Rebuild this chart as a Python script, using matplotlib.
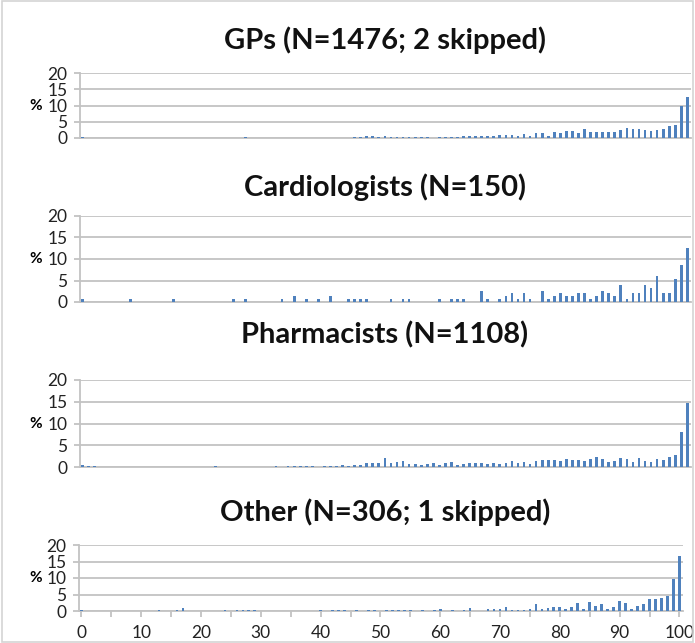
import numpy as np
import matplotlib
matplotlib.use("Agg")
import matplotlib.pyplot as plt
from matplotlib.patches import Rectangle

plt.rcParams['font.family'] = ['Lato', 'DejaVu Sans']

scores = np.arange(0, 101)

titles = ["GPs (N=1476; 2 skipped)", "Cardiologists (N=150)",
          "Pharmacists (N=1108)", "Other (N=306; 1 skipped)"]

# percent of respondents at each score 0..100
gps = [0.3, 0, 0.07, 0, 0, 0.07, 0, 0, 0.07, 0,
       0, 0.07, 0, 0, 0.07, 0, 0, 0.07, 0, 0,
       0.07, 0, 0, 0.07, 0, 0, 0.07, 0.3, 0, 0.07,
       0, 0.07, 0, 0.07, 0, 0.07, 0, 0.07, 0, 0.07,
       0.07, 0, 0.07, 0.07, 0.14, 0.2, 0.3, 0.6, 0.6, 0.3,
       0.7, 0.3, 0.3, 0.3, 0.3, 0.3, 0.2, 0.2, 0.1, 0.3,
       0.3, 0.3, 0.4, 0.5, 0.5, 0.6, 0.6, 0.7, 0.5, 0.9,
       0.9, 0.9, 0.5, 1.35, 0.5, 1.5, 1.5, 0.7, 1.8, 1.5,
       2.2, 2.2, 1.5, 2.7, 2.0, 2.0, 2.0, 2.0, 2.0, 2.4,
       3.2, 2.7, 2.7, 2.4, 2.2, 2.5, 2.9, 3.6, 3.9, 9.7,
       12.5]

cardio = [0.67, 0, 0, 0, 0, 0, 0, 0, 0.67, 0,
          0, 0, 0, 0, 0, 0.67, 0, 0, 0, 0,
          0, 0, 0, 0, 0, 0.67, 0, 0.67, 0, 0,
          0, 0, 0, 0.67, 0, 1.33, 0, 0.67, 0, 0.67,
          0, 1.33, 0, 0, 0.67, 0.67, 0.67, 0.67, 0, 0,
          0, 0.67, 0, 0.67, 0.67, 0, 0, 0, 0, 0.67,
          0, 0.67, 0.67, 0.67, 0, 0, 2.67, 0.67, 0, 0.67,
          1.33, 2.0, 0.67, 2.0, 0.67, 0, 2.67, 0.67, 1.33, 2.0,
          1.33, 1.33, 2.0, 2.0, 0.67, 1.33, 2.67, 2.0, 1.33, 4.0,
          0.67, 2.0, 2.0, 4.0, 3.33, 6.0, 2.0, 2.0, 5.33, 8.67,
          12.67]

pharm = [0.5, 0.2, 0.2, 0, 0, 0.1, 0.1, 0, 0.1, 0.1,
         0, 0, 0.1, 0.1, 0, 0.1, 0.1, 0.1, 0.1, 0.1,
         0.1, 0, 0.2, 0.1, 0.1, 0.1, 0.1, 0, 0.1, 0.1,
         0.1, 0, 0.2, 0.1, 0.2, 0.3, 0.2, 0.3, 0.2, 0.1,
         0.3, 0.3, 0.2, 0.4, 0.3, 0.4, 0.5, 0.9, 0.9, 1.0,
         2.0, 1.0, 1.2, 1.4, 0.6, 0.7, 0.5, 0.8, 1.0, 0.5,
         1.0, 1.2, 0.5, 0.8, 0.9, 1.0, 0.9, 0.7, 1.0, 0.8,
         0.9, 1.4, 1.0, 1.1, 0.7, 1.4, 1.5, 1.5, 1.5, 1.4,
         1.8, 1.7, 1.5, 1.4, 1.8, 2.3, 1.8, 1.2, 1.4, 2.0,
         1.8, 1.2, 2.1, 1.4, 1.2, 1.8, 1.7, 2.3, 2.8, 8.1,
         14.6]

other = [0.33, 0, 0, 0, 0, 0, 0, 0, 0, 0,
         0, 0, 0, 0.33, 0, 0, 0.33, 0.98, 0, 0,
         0, 0, 0, 0, 0.33, 0, 0.33, 0.33, 0.33, 0.33,
         0, 0, 0, 0, 0, 0, 0, 0, 0, 0,
         0.33, 0, 0.33, 0.33, 0.33, 0, 0.33, 0, 0.33, 0.33,
         0, 0.33, 0.33, 0.33, 0.33, 0.33, 0, 0.33, 0, 0.33,
         0.66, 0, 0.33, 0, 0.33, 0.98, 0, 0, 0.66, 0.66,
         0.66, 1.31, 0.33, 0.33, 0.33, 0.66, 1.97, 0.66, 0.98, 1.31,
         1.31, 0.66, 1.31, 2.30, 0.66, 2.62, 1.64, 1.97, 0.66, 1.31,
         2.95, 2.30, 0.66, 1.64, 1.97, 3.61, 3.61, 3.93, 4.59, 9.84,
         16.72]

series = [gps, cardio, pharm, other]

W, H = 695, 643
fig = plt.figure(figsize=(W / 100, H / 100), dpi=100)
fig.patches.append(Rectangle((0.003, 0.002), 0.994, 0.996, transform=fig.transFigure,
                             fill=False, edgecolor='#d4d4d4', lw=1.2))

# axes boxes in pixels: left, right, top, bottom
boxes = [(80, 691, 73, 138), (80, 691, 216, 302), (80, 691, 380, 467), (79, 683, 545, 611)]
title_y = [40, 187, 335, 512]
bar_color = '#4f81bd'
grid_color = '#c3c3c3'

for i, (vals, (l, r, t, b)) in enumerate(zip(series, boxes)):
    ax = fig.add_axes([l / W, 1 - b / H, (r - l) / W, (b - t) / H])
    ax.bar(scores, vals, width=0.45, color=bar_color, zorder=3)
    ax.set_xlim(-0.4, 100.6)
    ax.set_ylim(0, 20)
    ax.set_yticks([0, 5, 10, 15, 20])
    ax.yaxis.grid(True, color=grid_color, lw=1.3, zorder=0)
    for s in ['top', 'right']:
        ax.spines[s].set_visible(False)
    ax.spines['left'].set_color(grid_color)
    ax.spines['left'].set_linewidth(1.3)
    ax.spines['bottom'].set_color(grid_color)
    ax.spines['bottom'].set_linewidth(1.3)
    ax.tick_params(axis='y', length=4, color=grid_color, width=1.3,
                   labelsize=12.5, labelcolor='#222222', pad=5)
    if i == 3:
        ax.set_xticks(np.arange(0, 101, 10))
        ax.set_xticks(np.arange(0, 101, 5), minor=True)
        ax.tick_params(axis='x', which='both', length=4, color=grid_color, width=1.3,
                       labelsize=12.5, labelcolor='#222222', pad=6)
    else:
        ax.set_xticks([])
    # "%" sits left of the tick labels, level with the 10 line
    ax.text((36 - l) / (r - l), 0.5, '%', transform=ax.transAxes, fontsize=11,
            fontweight='bold', ha='center', va='center')
    fig.text(385 / W, 1 - title_y[i] / H, titles[i], fontsize=21,
             fontweight='bold', ha='center', va='center', color='#111111')

fig.savefig('out.png', dpi=100)
